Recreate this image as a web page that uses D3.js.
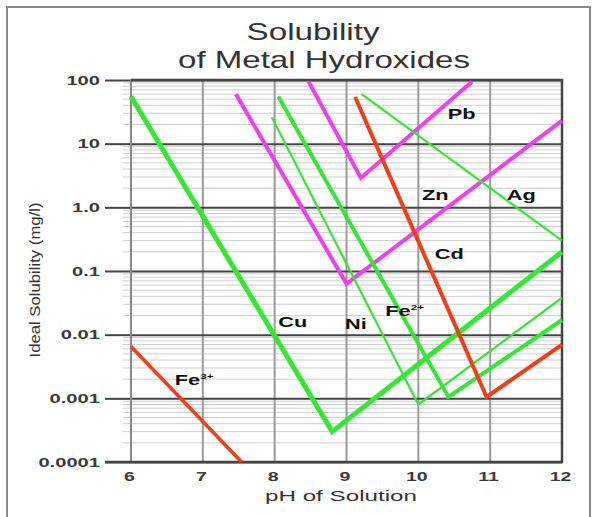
<!DOCTYPE html>
<html><head><meta charset="utf-8">
<script src="https://cdn.jsdelivr.net/npm/d3@7"></script>
<style>body{margin:0;background:#fff}svg{display:block}</style>
</head><body>
<svg id="c" width="592" height="517"></svg>
<script>
// ---- data ----
const phTicks = [6, 7, 8, 9, 10, 11, 12];
const phTickLabels = ["6", "7", "8", "9", "10", "11", "12"];
const solTicks = [100, 10, 1, 0.1, 0.01, 0.001, 0.0001];
const solTickLabels = ["100", "10", "1.0", "0.1", "0.01", "0.001", "0.0001"];
const titleLines = ["Solubility", "of Metal Hydroxides"];
const xTitle = "pH of Solution";
const yTitle = "Ideal Solubility (mg/l)";

// [pH, solubility mg/l]
const cuCurve  = [[6.0, 55], [8.8, 0.0003], [12, 0.2]];
const znCurve  = [[7.46, 60], [9.0, 0.063], [12, 23]];
const pbCurve  = [[8.47, 95], [9.2, 2.9], [10.75, 95]];
const cdCurve  = [[9.12, 54], [10.95, 0.00105], [12, 0.007]];
const agCurve  = [[9.21, 60], [12, 0.3]];
const niCurve  = [[7.96, 26], [10.0, 0.0008], [12, 0.038]];
const fe2Curve = [[8.05, 55], [10.42, 0.00105], [12, 0.017]];
const fe3Curve = [[6.0, 0.0065], [7.54, 0.0001]];

// label anchors
const labelNames = ["Pb", "Zn", "Ag", "Cd", "Cu", "Ni", "Fe", "Fe"];
const labelSups  = ["", "", "", "", "", "", "2+", "3+"];
const labelPH    = [10.41, 10.05, 11.23, 10.23, 8.05, 8.98, 9.54, 6.61];
const labelSol   = [30, 1.6, 1.56, 0.185, 0.0158, 0.0147, 0.0235, 0.0020];

// ---- styles ----
const GREEN = "#30ea30", MAGENTA = "#f23cf2", RED = "#f53c14";
const series = [
  {d: fe3Curve, c: RED, w: 3.5},
  {d: cuCurve, c: GREEN, w: 5},
  {d: znCurve, c: MAGENTA, w: 4},
  {d: pbCurve, c: MAGENTA, w: 4},
  {d: niCurve, c: GREEN, w: 2.2},
  {d: fe2Curve, c: GREEN, w: 4},
  {d: agCurve, c: GREEN, w: 2.2},
  {d: cdCurve, c: RED, w: 4},
];

const svg = d3.select("#c");
const L = 131, R = 562, T = 80, B = 462;
const x = d3.scaleLinear().domain([6, 12]).range([L, R]);
const y = d3.scaleLog().domain([0.0001, 100]).range([B, T]);
const tf = "Liberation Sans, Arial, sans-serif";

// outer frame
svg.append("rect").attr("x", 7).attr("y", 7).attr("width", 583).attr("height", 530)
  .attr("fill", "none").attr("stroke", "#888").attr("stroke-width", 2);

function stretch(sel, f) {
  sel.each(function () {
    const len = this.getComputedTextLength();
    d3.select(this).attr("textLength", len * f).attr("lengthAdjust", "spacingAndGlyphs");
  });
}

// minor grid
const minor = [];
for (let e = -4; e < 2; e++) for (let m = 2; m <= 9; m++) minor.push(m * Math.pow(10, e));
svg.append("g").selectAll("line").data(minor).join("line")
  .attr("x1", L - 8).attr("x2", R).attr("y1", d => y(d)).attr("y2", d => y(d))
  .attr("stroke", "#cfcfcf").attr("stroke-width", 1);

// vertical grid
svg.append("g").selectAll("line").data(phTicks.slice(1, -1)).join("line")
  .attr("x1", d => x(d)).attr("x2", d => x(d)).attr("y1", T).attr("y2", B)
  .attr("stroke", "#9a9a9a").attr("stroke-width", 2);

// y axis with major grid
const yAxis = svg.append("g").attr("transform", `translate(${L},0)`)
  .call(d3.axisLeft(y).tickValues(solTicks).tickFormat((d, i) => solTickLabels[i]).tickSize(26).tickPadding(5));
yAxis.select(".domain").remove();
yAxis.selectAll(".tick line").attr("stroke", "#444").attr("stroke-width", 2);
yAxis.selectAll(".tick").append("line").attr("x1", 0).attr("x2", R - L)
  .attr("stroke", "#444").attr("stroke-width", 2);
yAxis.selectAll("text").attr("font-family", tf)
  .attr("font-size", 13).attr("font-weight", "bold").attr("fill", "#3a3a3a").call(stretch, 1.55);

// left axis line and frame
svg.append("line").attr("x1", L).attr("x2", L).attr("y1", T).attr("y2", B)
  .attr("stroke", "#888").attr("stroke-width", 2);
svg.append("path").attr("d", `M${L},${T}H${R}V${B}H${L - 26}`).attr("fill", "none")
  .attr("stroke", "#444").attr("stroke-width", 2.5);

// x axis labels
const xAxis = svg.append("g").attr("transform", `translate(0,${B})`)
  .call(d3.axisBottom(x).tickValues(phTicks).tickFormat((d, i) => phTickLabels[i]).tickSize(0).tickPadding(10));
xAxis.select(".domain").remove();
xAxis.selectAll("text").attr("dx", -2).attr("font-family", tf)
  .attr("font-size", 13).attr("font-weight", "bold").attr("fill", "#3a3a3a").call(stretch, 1.5);

// curves
const line = d3.line().x(d => x(d[0])).y(d => y(d[1]));
svg.append("g").selectAll("path").data(series).join("path")
  .attr("d", s => line(s.d)).attr("fill", "none").attr("stroke", s => s.c)
  .attr("stroke-width", s => s.w).attr("stroke-linejoin", "miter");

// labels
const lbl = svg.append("g").selectAll("text").data(labelNames).join("text")
  .attr("x", (d, i) => x(labelPH[i])).attr("y", (d, i) => y(labelSol[i])).attr("dy", "0.36em")
  .attr("font-family", tf).attr("font-size", 15)
  .attr("font-weight", "bold").attr("fill", "#111");
lbl.append("tspan").text(d => d);
lbl.append("tspan").text((d, i) => labelSups[i]).attr("font-size", 8).attr("dy", -6);
lbl.call(stretch, 1.45);

// titles
svg.append("text").attr("x", 313).attr("y", 40).attr("text-anchor", "middle")
  .attr("font-family", tf).attr("font-size", 24).attr("fill", "#333")
  .attr("textLength", 133).attr("lengthAdjust", "spacingAndGlyphs").text(titleLines[0]);
svg.append("text").attr("x", 324).attr("y", 68).attr("text-anchor", "middle")
  .attr("font-family", tf).attr("font-size", 24).attr("fill", "#333")
  .attr("textLength", 292).attr("lengthAdjust", "spacingAndGlyphs").text(titleLines[1]);
svg.append("text").attr("x", 341).attr("y", 501).attr("text-anchor", "middle")
  .attr("font-family", tf).attr("font-size", 15).attr("fill", "#333")
  .attr("textLength", 152).attr("lengthAdjust", "spacingAndGlyphs").text(xTitle);
svg.append("text").attr("transform", "translate(40,280) rotate(-90)").attr("text-anchor", "middle")
  .attr("font-family", tf).attr("font-size", 14).attr("fill", "#333")
  .attr("textLength", 155).attr("lengthAdjust", "spacingAndGlyphs").text(yTitle);
</script>
</body></html>
